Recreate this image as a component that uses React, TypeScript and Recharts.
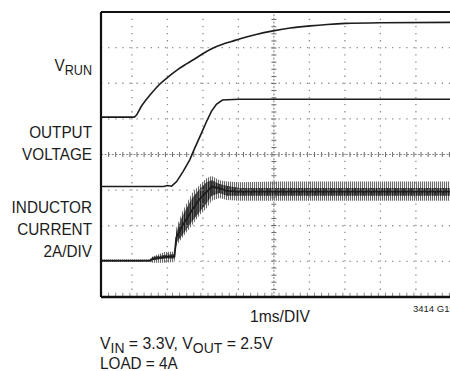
import React from 'react';
import { ComposedChart, Line, Area, XAxis, YAxis, ReferenceLine } from 'recharts';

// time in divisions (1ms/DIV), amplitude in screen divisions (0 = bottom, 8 = top)
const vrunT = [0.13, 1.06, 1.29, 1.51, 1.79, 2.05, 2.3, 2.55, 2.81, 3.03, 3.29, 3.54, 3.8, 4.05, 4.5, 4.98, 5.46, 6.02, 6.5, 7.01, 7.99, 9.96];
const vrunV = [5.05, 5.05, 5.39, 5.67, 5.98, 6.2, 6.39, 6.55, 6.71, 6.85, 6.99, 7.09, 7.17, 7.25, 7.37, 7.47, 7.55, 7.61, 7.65, 7.68, 7.7, 7.71];

const voutT = [0.13, 1.9, 2.0, 2.12, 2.26, 2.44, 2.63, 2.77, 2.96, 3.1, 3.24, 3.38, 3.55, 4.0, 9.96];
const voutV = [3.1, 3.1, 3.13, 3.11, 3.24, 3.52, 3.85, 4.18, 4.6, 4.92, 5.21, 5.41, 5.53, 5.55, 5.55];

// inductor current: centre trace, dark ripple core and outer ripple envelope
const ilT = [0.13, 1.5, 1.58, 1.92, 2.2, 2.25, 2.42, 2.7, 2.91, 3.11, 3.25, 3.47, 3.67, 4.04, 5.0, 9.96];
const ilMid = [1.02, 1.02, 1.06, 1.12, 1.14, 1.67, 2.0, 2.45, 2.75, 2.95, 3.1, 3.05, 2.98, 2.96, 2.96, 2.96];
const ilCoreLo = [1.0, 1.0, 1.04, 1.08, 1.08, 1.52, 1.74, 2.13, 2.39, 2.64, 2.84, 2.92, 2.84, 2.84, 2.84, 2.84];
const ilCoreHi = [1.04, 1.04, 1.12, 1.18, 1.21, 1.82, 2.27, 2.78, 3.03, 3.23, 3.28, 3.17, 3.12, 3.06, 3.06, 3.06];
const ilLo = [0.98, 0.98, 0.96, 0.96, 0.98, 1.43, 1.66, 2.02, 2.3, 2.5, 2.7, 2.78, 2.72, 2.7, 2.7, 2.7];
const ilHi = [1.05, 1.05, 1.14, 1.26, 1.28, 1.94, 2.39, 2.92, 3.15, 3.34, 3.4, 3.28, 3.24, 3.22, 3.24, 3.24];

const gridX = [1, 2, 3, 4, 6, 7, 8, 9];
const gridY = [1, 2, 3, 5, 6, 7];

const vrunData = vrunT.map((x, i) => ({ x, v: vrunV[i] }));
const voutData = voutT.map((x, i) => ({ x, v: voutV[i] }));
const ilData = ilT.map((x, i) => ({
  x,
  v: ilMid[i],
  core: [ilCoreLo[i], ilCoreHi[i]],
  band: [ilLo[i], ilHi[i]],
}));

const FONT = '"Liberation Sans", Arial, Helvetica, sans-serif';
const INK = '#1c1c1c';
const DOTS = '#8c8c8c';

const Labels: React.FC = () => (
  <svg width={450} height={371} style={{ position: 'absolute', left: 0, top: 0 }} fontFamily={FONT} fill={INK}>
    <g transform="translate(92,71) scale(0.9,1)">
      <text textAnchor="end" fontSize={17}>
        V<tspan fontSize={14} dy={4}>RUN</tspan>
      </text>
    </g>
    <g transform="translate(92,0) scale(0.9,1)" fontSize={17} textAnchor="end">
      <text y={138}>OUTPUT</text>
      <text y={160}>VOLTAGE</text>
      <text y={213}>INDUCTOR</text>
      <text y={235}>CURRENT</text>
      <text y={257}>2A/DIV</text>
    </g>
    <g transform="translate(280,322) scale(0.92,1)">
      <text textAnchor="middle" fontSize={17}>1ms/DIV</text>
    </g>
    <text x={413} y={312} fontSize={9.5}>3414 G19</text>
    <g transform="translate(100,349) scale(0.93,1)" fontSize={17}>
      <text>
        V<tspan fontSize={15} dy={4}>IN</tspan>
        <tspan dy={-4}> = 3.3V, V</tspan>
        <tspan fontSize={15} dy={4}>OUT</tspan>
        <tspan dy={-4}> = 2.5V</tspan>
      </text>
    </g>
    <g transform="translate(100,369) scale(0.9,1)">
      <text fontSize={17}>LOAD = 4A</text>
    </g>
  </svg>
);

export default function App() {
  return (
    <div style={{ position: 'absolute', left: 0, top: 0, width: 450, height: 371, background: '#fff' }}>
      <ComposedChart width={450} height={371} margin={{ top: 12, right: 0, bottom: 74, left: 101 }}>
        <defs>
          <pattern id="ripple" width={2} height={4} patternUnits="userSpaceOnUse">
            <rect x={0} y={0} width={1.1} height={4} fill="#2a2a2a" />
          </pattern>
          <pattern id="rippleCore" width={1.6} height={4} patternUnits="userSpaceOnUse">
            <rect x={0} y={0} width={1.2} height={4} fill="#111" />
          </pattern>
        </defs>
        <XAxis type="number" dataKey="x" domain={[0.13, 9.96]} allowDataOverflow hide />
        <YAxis type="number" domain={[0, 8]} allowDataOverflow hide />

        {/* dotted graticule */}
        {gridX.map((g) => (
          <ReferenceLine key={`gx${g}`} x={g} stroke={DOTS} strokeWidth={1.3} strokeDasharray="1.3 5.8" />
        ))}
        {gridY.map((g) => (
          <ReferenceLine key={`gy${g}`} y={g} stroke={DOTS} strokeWidth={1.3} strokeDasharray="1.3 5.8" />
        ))}

        {/* centre axes with minor ticks */}
        <ReferenceLine x={5} stroke="#6a6a6a" strokeWidth={5} strokeDasharray="1 6.1" />
        <ReferenceLine x={5} stroke="#888" strokeWidth={1.1} strokeDasharray="2 1.6" />
        <ReferenceLine y={4} stroke="#6a6a6a" strokeWidth={5} strokeDasharray="1 6.1" />
        <ReferenceLine y={4} stroke="#888" strokeWidth={1.1} strokeDasharray="2 1.6" />

        {/* minor ticks along the bottom edge */}
        <ReferenceLine y={0.06} stroke={DOTS} strokeWidth={4} strokeDasharray="1 6.1" />

        {/* frame */}
        <ReferenceLine x={0.13} stroke="#111" strokeWidth={2.2} />
        <ReferenceLine y={8} stroke="#111" strokeWidth={2} />
        <ReferenceLine y={0} stroke="#111" strokeWidth={2.4} />

        <Area
          data={ilData}
          dataKey="band"
          type="linear"
          stroke="none"
          fill="url(#ripple)"
          fillOpacity={0.7}
          isAnimationActive={false}
        />
        <Area
          data={ilData}
          dataKey="core"
          type="linear"
          stroke="none"
          fill="url(#rippleCore)"
          fillOpacity={0.9}
          isAnimationActive={false}
        />
        <Line data={ilData} dataKey="v" type="linear" stroke={INK} strokeWidth={1.8} dot={false} isAnimationActive={false} />
        <Line data={voutData} dataKey="v" type="linear" stroke={INK} strokeWidth={1.6} dot={false} isAnimationActive={false} />
        <Line data={vrunData} dataKey="v" type="monotone" stroke={INK} strokeWidth={1.6} dot={false} isAnimationActive={false} />
      </ComposedChart>
      <Labels />
    </div>
  );
}
